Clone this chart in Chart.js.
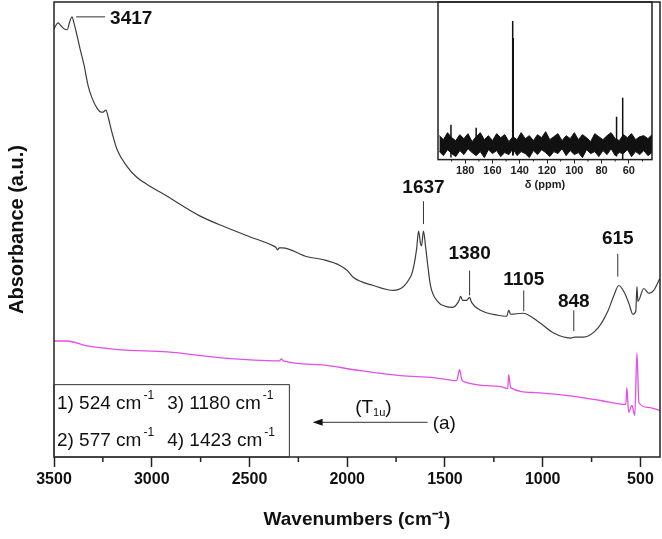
<!DOCTYPE html>
<html>
<head>
<meta charset="utf-8">
<script src="https://cdn.jsdelivr.net/npm/chart.js@4.4.1/dist/chart.umd.min.js"></script>
<style>
  html, body { margin: 0; padding: 0; background: #fff; }
  #wrap { position: relative; width: 662px; height: 539px; }
  #main { position: absolute; left: 0; top: 0; }
  #inset { position: absolute; left: 420px; top: 0; }
</style>
</head>
<body>
<div id="wrap">
  <canvas id="main" width="662" height="539"></canvas>
  <canvas id="inset" width="240" height="192"></canvas>
</div>
<script>
// --- FTIR, black trace (upper sample) ---
const wnUpper = [3500, 3479, 3464, 3449, 3433, 3418, 3408, 3398, 3382, 3367, 3346, 3326, 3305, 3280, 3259, 3249,
  3234, 3223, 3203, 3177, 3126, 3075, 3024, 2921, 2752, 2624, 2496, 2378, 2363, 2357, 2347, 2332, 2204, 2122,
  2035, 1999, 1968, 1866, 1763, 1712, 1681, 1666, 1645, 1635, 1625, 1620, 1610, 1599, 1589, 1574, 1538, 1497,
  1461, 1430, 1420, 1410, 1389, 1374, 1364, 1318, 1230, 1184, 1174, 1164, 1102, 1026, 944, 857, 836, 790, 718,
  667, 636, 611, 585, 559, 539, 524, 518, 513, 483, 457, 432, 401];
const absUpper = [432, 438, 435, 432, 431, 440, 444, 438, 425, 412, 395, 375, 362, 352, 348, 348,
  350, 343, 327, 310, 293, 282, 275, 263, 243, 232, 222, 213, 211, 209, 211, 211, 202, 199,
  193, 188, 181, 173, 168, 172, 180, 187, 210, 228, 215, 213, 228, 212, 195, 173, 157, 152,
  151, 157, 162, 158, 158, 161, 156, 148, 143, 142, 148, 144, 145, 137, 125, 120, 121, 121, 130,
  147, 163, 173, 167, 155, 144, 147, 172, 157, 170, 165, 168, 180];

// --- FTIR, magenta trace (a) ---
const wnLower = [3500, 3433, 3331, 3157, 2921, 2644, 2347, 2337, 2327, 2132, 1963, 1727, 1558, 1522, 1440, 1425,
  1415, 1405, 1215, 1179, 1174, 1164, 1046, 872, 703, 575, 570, 560, 544, 529, 518, 508, 462, 401];
const absLower = [117, 117, 112, 108, 106, 100, 97, 99, 97, 93, 88, 82, 80, 79, 77, 88,
  79, 76, 71, 69, 83, 70, 65, 62, 57, 53, 70, 45, 52, 42, 105, 55, 50, 47];

const xTicks = [3500, 3000, 2500, 2000, 1500, 1000, 500];
const xMinorTicks = [3250, 2750, 2250, 1750, 1250, 750];

// --- inset: 13C NMR ---
const nmrShift = [199, 196, 193, 190, 187, 184, 181, 178, 175, 172, 169, 166, 163, 160, 157, 154, 151, 148, 145,
  142, 139, 136, 133, 130, 127, 124, 121, 118, 115, 112, 109, 106, 103, 100, 97, 94, 91, 88, 85, 82, 79, 76, 73,
  70, 67, 64, 61, 58, 55, 52, 49, 46, 43];
const nmrNoiseTop = [24, 20, 27, 22, 19, 25, 21, 26, 18, 23, 27, 20, 24, 19, 26, 22, 25, 18, 23, 20, 27, 21, 24,
  19, 25, 22, 28, 20, 23, 26, 19, 24, 21, 27, 20, 25, 22, 18, 26, 23, 20, 24, 27, 21, 19, 25, 22, 26, 20, 23, 24,
  21, 25];
const nmrNoiseBottom = [8, 4, 10, 6, 3, 9, 5, 11, 7, 4, 8, 2, 10, 6, 9, 3, 7, 5, 11, 4, 8, 6, 2, 9, 5, 10, 7, 3, 8,
  6, 11, 4, 9, 5, 7, 2, 10, 6, 8, 3, 9, 5, 11, 4, 7, 6, 10, 3, 8, 5, 9, 4, 7];
const nmrPeakShift = [190.5, 172, 145.2, 144.8, 69, 64.5];
const nmrPeakTop = [35, 32, 139, 122, 43, 62];
const nmrPeakBottom = [2, 5, 4, 4, 3, 0];
const nmrTicks = [180, 160, 140, 120, 100, 80, 60];
const nmrMinorTicks = [190, 170, 150, 130, 110, 90, 70, 50];

// annotations (placed in data units)
const peakNotes = [
  { text: "1637", wn: 1610, top: 258, bottom: 235, textY: 272 },
  { text: "1380", wn: 1374, top: 188, bottom: 163, textY: 205 },
  { text: "1105", wn: 1097, top: 168, bottom: 147, textY: 179 },
  { text: "848", wn: 841, top: 148, bottom: 127, textY: 157 },
  { text: "615", wn: 616, top: 205, bottom: 182, textY: 220 }
];
const bandCells = [
  { text: "1) 524 cm", wn: 3485, y: 54 },
  { text: "3) 1180 cm", wn: 2921, y: 54 },
  { text: "2) 577 cm", wn: 3485, y: 16 },
  { text: "4) 1423 cm", wn: 2921, y: 16 }
];

const FAM = "'Liberation Sans', Arial, sans-serif";
const toXY = (xs, ys) => xs.map((v, i) => ({ x: v, y: ys[i] }));

function drawRich(ctx, x, y, parts, align) {
  let total = 0;
  parts.forEach(p => { ctx.font = p.font; total += ctx.measureText(p.t).width + (p.gap || 0); });
  let cx = align === "center" ? x - total / 2 : x;
  ctx.textAlign = "left";
  ctx.textBaseline = "middle";
  parts.forEach(p => {
    ctx.font = p.font;
    cx += p.gap || 0;
    ctx.fillText(p.t, cx, y + (p.dy || 0));
    cx += ctx.measureText(p.t).width;
  });
}

function line(ctx, x1, y1, x2, y2) {
  ctx.beginPath(); ctx.moveTo(x1, y1); ctx.lineTo(x2, y2); ctx.stroke();
}

const mainDecor = {
  id: "mainDecor",
  afterDraw(chart) {
    const { ctx, chartArea: a, scales: { x, y } } = chart;
    ctx.save();
    ctx.strokeStyle = "#222";
    ctx.fillStyle = "#111";
    ctx.lineWidth = 1.5;
    ctx.strokeRect(a.left, a.top, a.right - a.left, a.bottom - a.top);
    xMinorTicks.forEach(v => {
      const px = x.getPixelForValue(v);
      line(ctx, px, a.bottom, px, a.bottom + 5);
    });

    // peak labels
    ctx.lineWidth = 1;
    ctx.strokeStyle = "#333";
    const boldF = "bold 19px " + FAM;
    const py = y.getPixelForValue(444);
    line(ctx, x.getPixelForValue(3387), py, x.getPixelForValue(3238), py);
    ctx.font = boldF; ctx.textAlign = "left"; ctx.textBaseline = "middle";
    ctx.fillText("3417", x.getPixelForValue(3213), y.getPixelForValue(442));
    peakNotes.forEach(n => {
      const lx = x.getPixelForValue(n.wn);
      line(ctx, lx, y.getPixelForValue(n.top), lx, y.getPixelForValue(n.bottom));
      ctx.font = boldF; ctx.textAlign = "center";
      ctx.fillText(n.text, lx, y.getPixelForValue(n.textY));
    });

    // band box
    ctx.strokeStyle = "#333";
    const bx1 = x.getPixelForValue(3500), bx2 = x.getPixelForValue(2296);
    const by1 = y.getPixelForValue(73), by2 = y.getPixelForValue(0);
    ctx.strokeRect(bx1, by1, bx2 - bx1, by2 - by1);
    bandCells.forEach(c => {
      drawRich(ctx, x.getPixelForValue(c.wn), y.getPixelForValue(c.y), [
        { t: c.text, font: "19px " + FAM },
        { t: "-1", font: "12px " + FAM, dy: -8, gap: 2 }
      ], "left");
    });

    // arrow and labels
    const ax1 = x.getPixelForValue(1589), ax2 = x.getPixelForValue(2177), ay = y.getPixelForValue(35);
    line(ctx, ax1, ay, ax2 + 6, ay);
    ctx.beginPath();
    ctx.moveTo(ax2, ay); ctx.lineTo(ax2 + 10, ay - 3.5); ctx.lineTo(ax2 + 10, ay + 3.5); ctx.closePath(); ctx.fill();
    drawRich(ctx, x.getPixelForValue(1866), y.getPixelForValue(50), [
      { t: "(T", font: "19px " + FAM },
      { t: "1u", font: "11px " + FAM, dy: 6 },
      { t: ")", font: "19px " + FAM }
    ], "center");
    ctx.font = "19px " + FAM; ctx.textAlign = "left";
    ctx.fillText("(a)", x.getPixelForValue(1563), y.getPixelForValue(34));
    ctx.restore();
  }
};

new Chart(document.getElementById("main"), {
  type: "line",
  data: {
    datasets: [
      { data: toXY(wnUpper, absUpper), borderColor: "#3c3c3c", borderWidth: 1.2, pointRadius: 0,
        cubicInterpolationMode: "monotone" },
      { data: toXY(wnLower, absLower), borderColor: "#e44fe6", borderWidth: 1.3, pointRadius: 0,
        cubicInterpolationMode: "monotone" }
    ]
  },
  options: {
    responsive: false,
    animation: false,
    layout: { padding: { left: 0, right: 2, top: 2, bottom: 4 } },
    plugins: { legend: { display: false }, tooltip: { enabled: false } },
    scales: {
      x: {
        type: "linear", reverse: true, min: 400, max: 3500,
        afterBuildTicks: s => { s.ticks = xTicks.map(v => ({ value: v })); },
        ticks: { callback: v => String(v), font: { family: FAM, size: 16, weight: "bold" }, color: "#111",
          padding: 3, maxRotation: 0, autoSkip: false },
        grid: { drawOnChartArea: false, drawTicks: true, tickLength: 10, tickColor: "#222", tickWidth: 1.5 },
        border: { display: false },
        title: { display: true, text: "Wavenumbers (cm⁻¹)", font: { family: FAM, size: 19, weight: "bold" },
          color: "#111", padding: { top: 16, bottom: 4 } }
      },
      y: {
        min: 0, max: 459,
        ticks: { display: false },
        grid: { display: false, drawTicks: false },
        border: { display: false },
        title: { display: true, text: "Absorbance (a.u.)", font: { family: FAM, size: 20, weight: "bold" },
          color: "#111", padding: { top: 5, bottom: 25 } }
      }
    }
  },
  plugins: [mainDecor]
});

// inset
const peakData = [];
nmrPeakShift.forEach((s, i) => {
  peakData.push({ x: s, y: nmrPeakBottom[i] }, { x: s, y: nmrPeakTop[i] }, { x: s, y: null });
});

const insetDecor = {
  id: "insetDecor",
  afterDraw(chart) {
    const { ctx, chartArea: a, scales: { x } } = chart;
    ctx.save();
    ctx.strokeStyle = "#222";
    ctx.lineWidth = 1.5;
    ctx.strokeRect(a.left, a.top, a.right - a.left, a.bottom - a.top);
    ctx.lineWidth = 1;
    nmrMinorTicks.forEach(v => {
      const px = x.getPixelForValue(v);
      line(ctx, px, a.bottom, px, a.bottom + 2);
    });
    ctx.restore();
  }
};

new Chart(document.getElementById("inset"), {
  type: "line",
  data: {
    datasets: [
      { data: toXY(nmrShift, nmrNoiseTop), borderColor: "#111", borderWidth: 1, pointRadius: 0, tension: 0, fill: false },
      { data: toXY(nmrShift, nmrNoiseBottom), borderColor: "#111", borderWidth: 1, pointRadius: 0, tension: 0,
        fill: "-1", backgroundColor: "#111" },
      { data: peakData, borderColor: "#111", borderWidth: 1.5, pointRadius: 0, tension: 0, spanGaps: false }
    ]
  },
  options: {
    responsive: false,
    animation: false,
    layout: { padding: { left: 18, right: 8, top: 2, bottom: 0 } },
    plugins: { legend: { display: false }, tooltip: { enabled: false } },
    scales: {
      x: {
        type: "linear", reverse: true, min: 43, max: 200,
        afterBuildTicks: s => { s.ticks = nmrTicks.map(v => ({ value: v })); },
        ticks: { callback: v => String(v), font: { family: FAM, size: 11, weight: "bold" }, color: "#222",
          padding: 1, maxRotation: 0, autoSkip: false },
        grid: { drawOnChartArea: false, tickLength: 4, tickColor: "#222" },
        border: { display: false },
        title: { display: true, text: "δ (ppm)", font: { family: FAM, size: 11, weight: "bold" }, color: "#222",
          padding: { top: 0, bottom: 0 } }
      },
      y: { display: false, min: 0, max: 158 }
    }
  },
  plugins: [insetDecor]
});
</script>
</body>
</html>
